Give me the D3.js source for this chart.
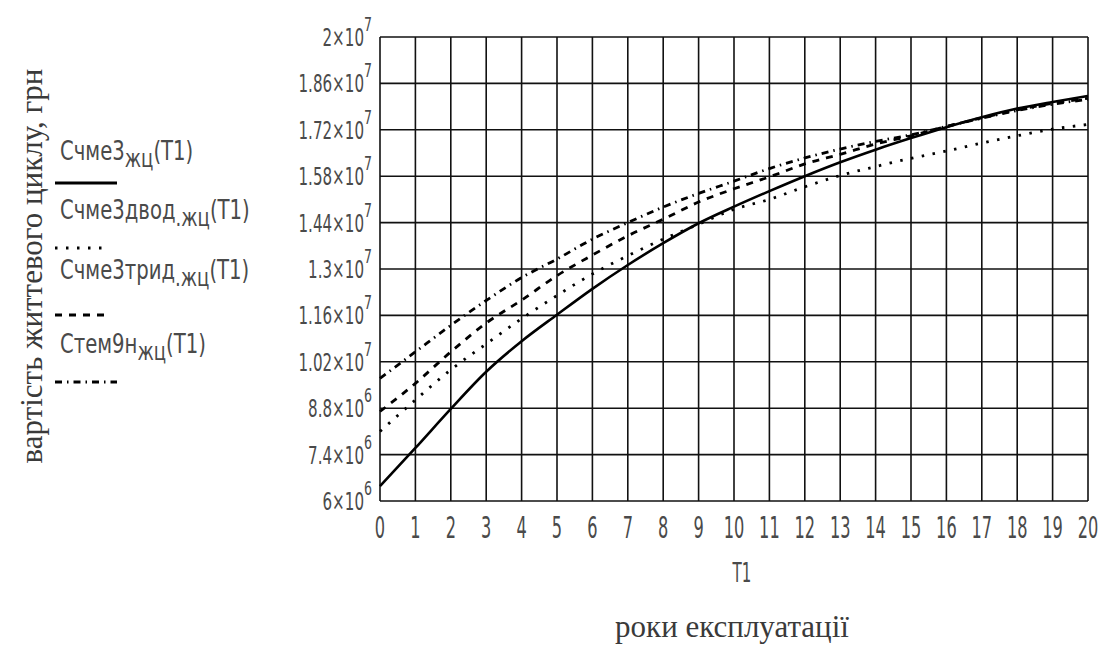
<html>
  <head>
    <meta charset="utf-8">
    <title>Вартість життевого циклу</title>
    <script src="https://cdn.jsdelivr.net/npm/d3@7" charset="utf-8"></script>
    <style>
      body { margin: 0; background: #fff; }
      .tech { font-family: "DejaVu Sans Condensed", "DejaVu Sans", sans-serif; font-stretch: condensed; fill: #4a4a4a; }
    </style>
  </head>
  <body>
    <div id="main"></div>
  <script>
    // years of operation
    var t1 = [0, 1, 2, 3, 4, 5, 6, 7, 8, 9, 10, 11, 12, 13, 14, 15, 16, 17, 18, 19, 20];

    // life cycle cost, millions of UAH
    var cChme3 = [6.45, 7.6, 8.78, 9.9, 10.82, 11.62, 12.4, 13.12, 13.78, 14.38, 14.88,
                  15.35, 15.8, 16.22, 16.6, 16.95, 17.28, 17.58, 17.84, 18.04, 18.22];
    var cChme3dvod = [8.1, 9.05, 9.96, 10.74, 11.5, 12.2, 12.85, 13.4, 13.9, 14.35, 14.8,
                      15.1, 15.48, 15.82, 16.09, 16.34, 16.56, 16.8, 17.02, 17.22, 17.36];
    var cChme3tryd = [8.7, 9.55, 10.5, 11.37, 12.06, 12.8, 13.42, 14.0, 14.5, 15.02, 15.42,
                      15.78, 16.17, 16.46, 16.77, 17.02, 17.3, 17.56, 17.8, 18.0, 18.15];
    var cTem9n = [9.7, 10.5, 11.3, 12.05, 12.74, 13.3, 13.9, 14.4, 14.87, 15.28, 15.65,
                  16.03, 16.35, 16.62, 16.85, 17.05, 17.3, 17.55, 17.78, 17.97, 18.12];

    // y ticks and their labels (mantissa ^ exponent)
    var yTicks = [6e6, 7.4e6, 8.8e6, 10.2e6, 11.6e6, 13e6, 14.4e6, 15.8e6, 17.2e6, 18.6e6, 20e6];
    var yTickLabels = ["6×10^6", "7.4×10^6", "8.8×10^6", "1.02×10^7", "1.16×10^7", "1.3×10^7",
                       "1.44×10^7", "1.58×10^7", "1.72×10^7", "1.86×10^7", "2×10^7"];

    // legend: name, subscript, dash pattern
    var seriesNames = ["Счме3", "Счме3двод", "Счме3трид", "Стем9н"];
    var seriesSubs = ["жц", ".жц", ".жц", "жц"];
    var seriesDash = [null, "2.5,8.5", "7,7", "7,5,1.5,5"];
    var seriesData = [cChme3, cChme3dvod, cChme3tryd, cTem9n];

    var svgWidth = 1117;
    var svgHeight = 646;
    var plot = { left: 380, right: 1088, top: 37, bottom: 501 };
    var serifFont = "'Liberation Serif', 'Times New Roman', 'DejaVu Serif', serif";

    var svg = d3.select("#main")
      .append("svg")
      .attr("width", svgWidth)
      .attr("height", svgHeight);

    var x = d3.scaleLinear().domain([0, 20]).range([plot.left, plot.right]);
    var y = d3.scaleLinear().domain([6e6, 2e7]).range([plot.bottom, plot.top]);

    // narrow technical lettering: squeeze horizontally
    function narrow(parent, px, py, sx) {
      return parent.append("g")
        .attr("transform", "translate(" + px + "," + py + ") scale(" + sx + ",1)")
        .append("text")
        .attr("class", "tech");
    }

    // grid
    svg.append("g")
      .selectAll("line")
      .data(t1)
      .enter()
      .append("line")
      .attr("x1", function(d) { return x(d); })
      .attr("x2", function(d) { return x(d); })
      .attr("y1", plot.top)
      .attr("y2", plot.bottom)
      .style("stroke", "#111")
      .style("stroke-width", 1.6);

    svg.append("g")
      .selectAll("line")
      .data(yTicks)
      .enter()
      .append("line")
      .attr("x1", plot.left)
      .attr("x2", plot.right)
      .attr("y1", function(d) { return y(d); })
      .attr("y2", function(d) { return y(d); })
      .style("stroke", "#111")
      .style("stroke-width", 1.6);

    // x tick labels
    t1.forEach(function(d) {
      narrow(svg, x(d), 538, 0.6)
        .attr("text-anchor", "middle")
        .style("font-size", "30px")
        .text(d);
    });

    // y tick labels with superscript exponent
    yTicks.forEach(function(d, i) {
      var parts = yTickLabels[i].split("^");
      var t = narrow(svg, 372, y(d) + 9, 0.7)
        .attr("text-anchor", "end")
        .style("font-size", "24px");
      t.append("tspan").text(parts[0]);
      t.append("tspan")
        .attr("dy", -15)
        .style("font-size", "20px")
        .text(parts[1]);
    });

    // x axis name
    narrow(svg, 742, 582, 0.62)
      .attr("text-anchor", "middle")
      .style("font-size", "27px")
      .text("T1");

    svg.append("text")
      .attr("x", 732)
      .attr("y", 637)
      .attr("text-anchor", "middle")
      .style("font-family", serifFont)
      .style("fill", "#3a3a3a")
      .style("font-size", "31px")
      .text("роки експлуатації");

    svg.append("text")
      .attr("transform", "translate(42,266) rotate(-90)")
      .attr("text-anchor", "middle")
      .style("font-family", serifFont)
      .style("fill", "#3a3a3a")
      .style("font-size", "31px")
      .text("вартість життевого циклу, грн");

    // curves
    var line = d3.line()
      .x(function(d, i) { return x(t1[i]); })
      .y(function(d) { return y(d * 1e6); })
      .curve(d3.curveMonotoneX);

    svg.append("g")
      .selectAll("path")
      .data(seriesData)
      .enter()
      .append("path")
      .attr("d", function(d) { return line(d); })
      .style("fill", "none")
      .style("stroke", "#000")
      .style("stroke-width", function(d, i) { return i === 0 ? 2.6 : 2.8; })
      .style("stroke-dasharray", function(d, i) { return seriesDash[i]; });

    // legend
    var legendText = [160, 219, 279, 353];
    var legendLine = [183, 248, 315, 382];
    var legendLen = [62, 52, 56, 62];
    seriesNames.forEach(function(name, i) {
      var t = narrow(svg, 60, legendText[i], 0.84)
        .style("font-size", "26px");
      t.append("tspan").text(name);
      t.append("tspan").attr("dy", 7).style("font-size", "24px").text(seriesSubs[i]);
      t.append("tspan").attr("dy", -7).text("(T1)");

      svg.append("line")
        .attr("x1", 55)
        .attr("x2", 55 + legendLen[i])
        .attr("y1", legendLine[i])
        .attr("y2", legendLine[i])
        .style("stroke", "#000")
        .style("stroke-width", i === 0 ? 3 : 2.8)
        .style("stroke-dasharray", seriesDash[i]);
    });
  </script>
  </body>
</html>
